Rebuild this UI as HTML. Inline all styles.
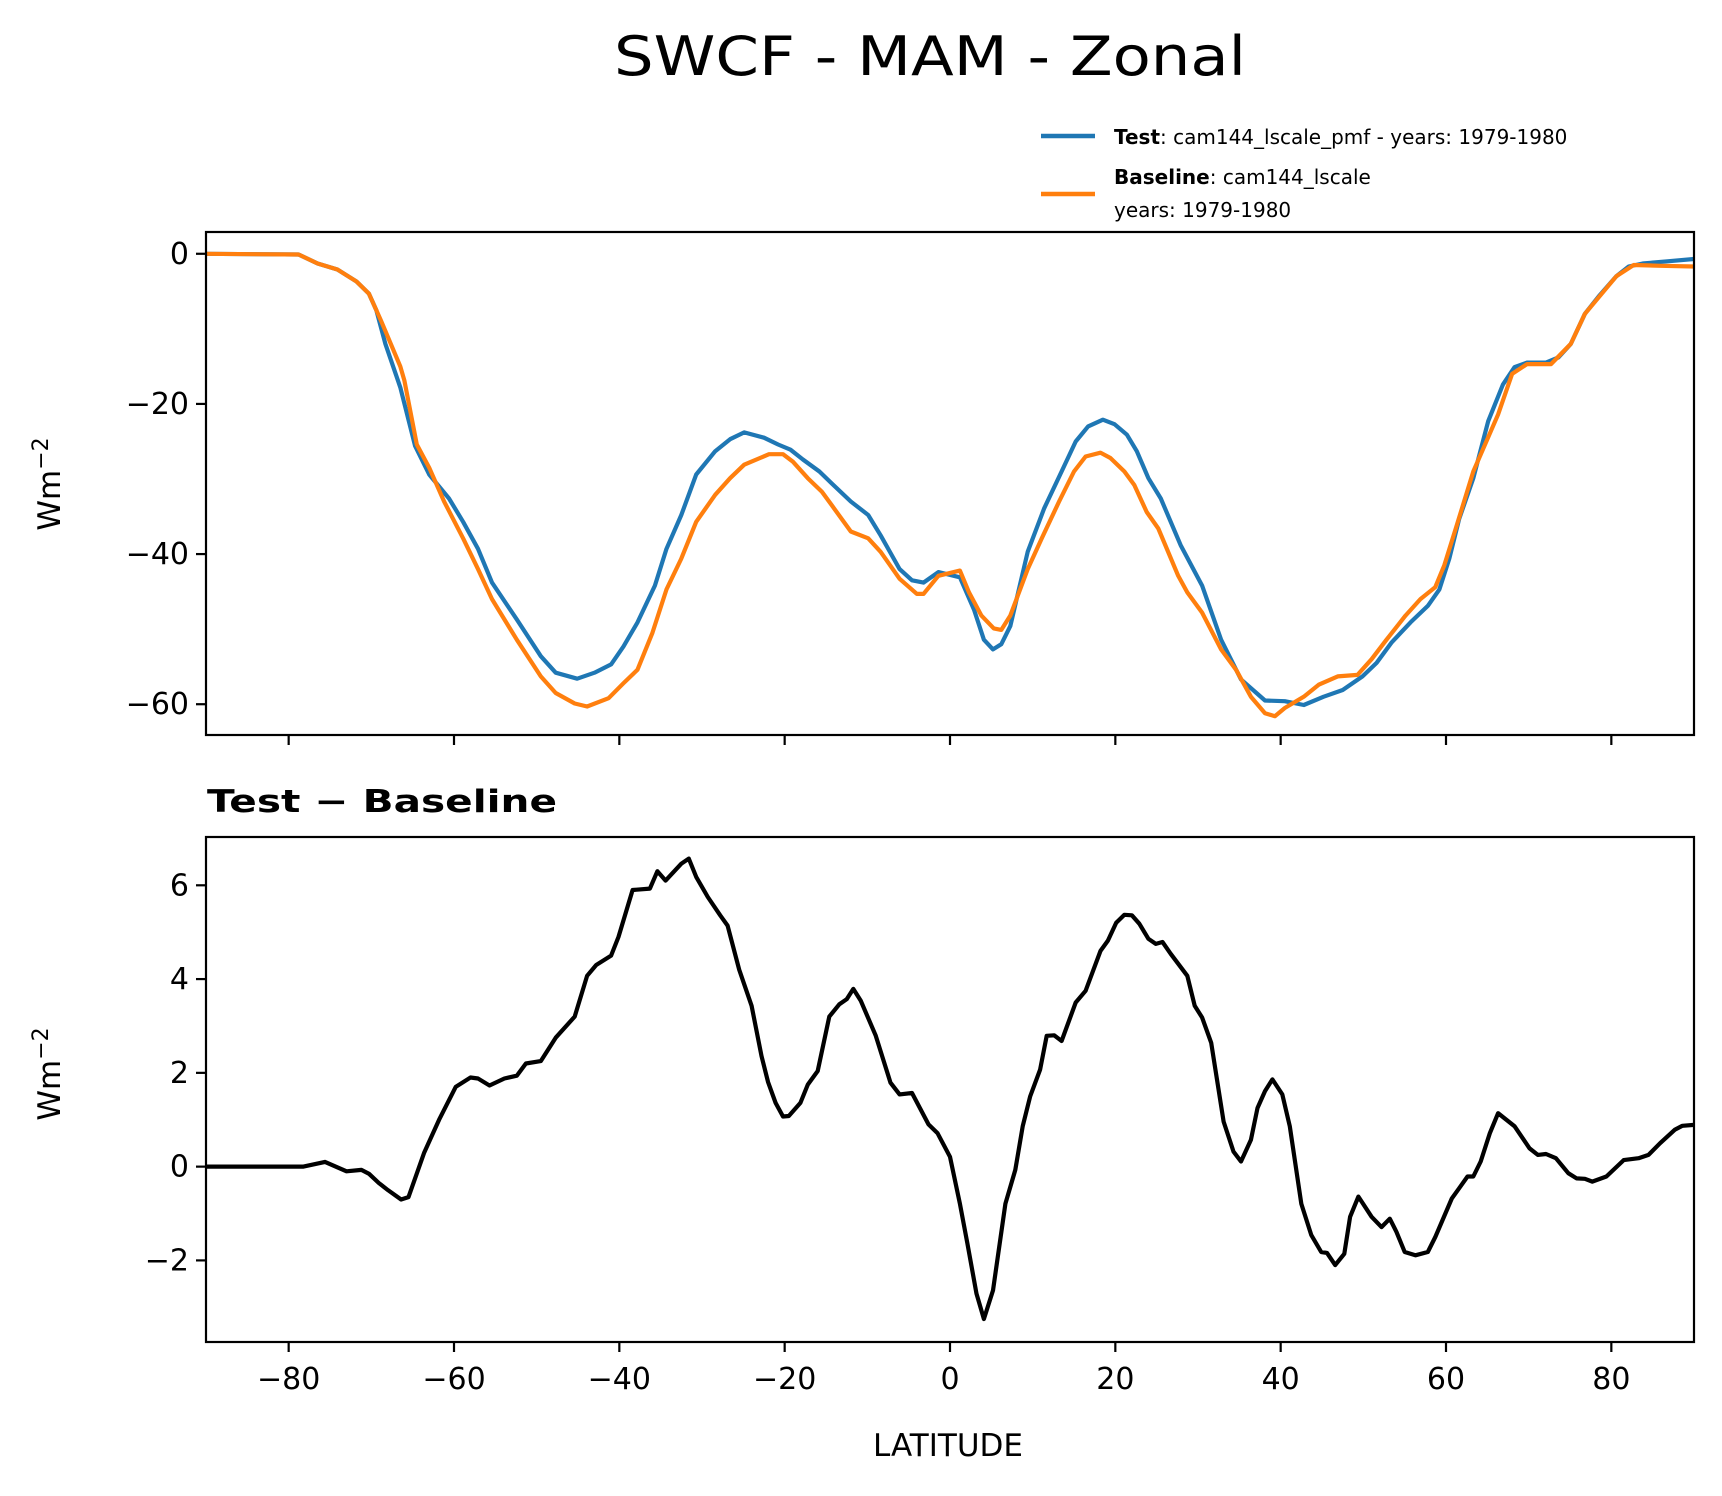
<!DOCTYPE html>
<html><head><meta charset="utf-8"><style>
html,body{margin:0;padding:0;background:#fff;}
svg{display:block;font-family:"DejaVu Sans","Liberation Sans",sans-serif;}
</style></head><body>
<svg id="chart" width="1722" height="1496" viewBox="0 0 1722 1496" xmlns="http://www.w3.org/2000/svg">
<rect width="1722" height="1496" fill="#fff"/>
<text x="930" y="75" font-size="54" text-anchor="middle" textLength="632" lengthAdjust="spacingAndGlyphs">SWCF - MAM - Zonal</text>
<g>
<line x1="1041" y1="136" x2="1095" y2="136" stroke="#1f77b4" stroke-width="4.5"/>
<text x="1114" y="144" font-size="20"><tspan font-weight="bold">Test</tspan>: cam144_lscale_pmf - years: 1979-1980</text>
<line x1="1041" y1="194" x2="1095" y2="194" stroke="#ff7f0e" stroke-width="4.5"/>
<text x="1114" y="184" font-size="20"><tspan font-weight="bold">Baseline</tspan>: cam144_lscale</text>
<text x="1114" y="217" font-size="20">years: 1979-1980</text>
</g>
<text x="207" y="812" font-size="31" font-weight="bold" textLength="350" lengthAdjust="spacingAndGlyphs">Test − Baseline</text>
<g id="top"></g>
<g id="bot"></g>
<text x="948" y="1456" font-size="31" text-anchor="middle">LATITUDE</text>
<text transform="translate(60,484) rotate(-90)" font-size="31" text-anchor="middle">Wm<tspan dy="-12" font-size="22">−2</tspan></text>
<text transform="translate(60,1074) rotate(-90)" font-size="31" text-anchor="middle">Wm<tspan dy="-12" font-size="22">−2</tspan></text>
</svg>
<script>
const xTicks = [-80,-60,-40,-20,0,20,40,60,80];
const topYTicks = [0,-20,-40,-60];
const botYTicks = [6,4,2,0,-2];
const testLat = [-90,-78.8,-76.5,-74.1,-71.8,-70.3,-69.4,-68.3,-66.5,-64.7,-63,-60.6,-58.9,-57.1,-55.4,-52.4,-49.5,-47.7,-45.1,-43,-41,-39.5,-37.8,-35.7,-34.3,-32.5,-30.7,-28.4,-26.6,-24.9,-22.5,-20.8,-19.3,-17.8,-15.8,-14.3,-12,-9.9,-8.4,-6.1,-4.6,-3.2,-1.4,1.2,2.9,4.1,5.2,6.2,7.3,9.4,11.4,13.5,15.2,16.7,18.5,19.9,21.4,22.6,24,25.5,27.9,30.5,32.8,35.2,38.1,40.5,42.8,45.2,47.5,49.9,51.6,53.4,55.7,57.8,59.2,60.4,61.6,63.3,65.1,66.9,68.3,69.8,72.1,73.6,75.1,76.8,78.6,80.6,82.1,83.8,86.8,90];
const testVal = [0,-0.1,-1.3,-2.1,-3.7,-5.3,-7.5,-12,-17.8,-25.6,-29.4,-32.6,-35.7,-39.3,-43.8,-48.7,-53.6,-55.8,-56.6,-55.8,-54.7,-52.3,-49.1,-44.2,-39.3,-34.8,-29.4,-26.3,-24.7,-23.8,-24.5,-25.4,-26.1,-27.4,-29,-30.6,-33,-34.8,-37.5,-42,-43.5,-43.8,-42.4,-43.1,-47.4,-51.4,-52.7,-52,-49.6,-39.7,-33.9,-29,-25,-23,-22.1,-22.7,-24.1,-26.3,-29.9,-32.6,-38.8,-44.2,-51.4,-56.7,-59.5,-59.6,-60.1,-59,-58.1,-56.3,-54.5,-51.8,-49.1,-46.9,-44.7,-40.6,-35.3,-29.9,-22.3,-17.4,-15.1,-14.5,-14.5,-13.8,-12,-8,-5.5,-3,-1.7,-1.3,-1,-0.7];
const baseLat = [-90,-78.8,-76.5,-74.1,-71.8,-70.3,-69.4,-68.8,-66.5,-66,-64.5,-63,-61.2,-58.9,-57.1,-55.4,-52.4,-49.5,-47.7,-45.4,-43.9,-41.3,-39.5,-37.8,-36,-34.3,-32.5,-30.7,-28.4,-26.6,-24.9,-21.9,-20.2,-19,-17.2,-15.5,-14.3,-12,-9.9,-8.4,-6.1,-4,-3.2,-1.4,1.2,2.3,3.8,5.3,6.2,7.3,9.4,11.1,13.2,15,16.4,18.2,19.4,21.1,22.3,23.8,25.2,27.6,28.7,30.5,32.8,34.6,36.4,38.1,39.3,40.5,42.8,44.6,46.9,49.3,51,52.8,55.1,56.9,58.7,59.8,61.3,63.3,66.3,68,69.8,72.7,75.1,76.8,80.6,82.7,86,90];
const baseVal = [0,-0.1,-1.3,-2.1,-3.7,-5.3,-7.5,-9,-15,-16.9,-25.4,-28.5,-33,-37.9,-42,-46,-51.4,-56.3,-58.5,-59.9,-60.3,-59.2,-57.2,-55.4,-50.5,-44.7,-40.6,-35.7,-32.1,-29.9,-28.1,-26.7,-26.7,-27.7,-29.9,-31.7,-33.5,-37,-37.9,-39.7,-43.3,-45.3,-45.3,-42.9,-42.2,-45.1,-48.2,-49.9,-50.1,-48.2,-42,-37.9,-33,-29,-27,-26.5,-27.2,-29,-30.8,-34.4,-36.6,-42.9,-45.1,-47.8,-52.7,-55.4,-59,-61.2,-61.6,-60.5,-59,-57.4,-56.3,-56.1,-54,-51.4,-48.2,-46,-44.4,-41.5,-36.2,-29,-21.4,-16,-14.7,-14.7,-12,-8,-3,-1.5,-1.6,-1.7];
const diffLat = [-90,-78.2,-75.6,-73,-71.2,-70.3,-69.1,-68,-66.4,-65.5,-63.6,-61.8,-59.8,-58,-57.1,-55.7,-53.9,-52.4,-51.3,-49.5,-47.7,-45.4,-43.9,-42.8,-41,-40.1,-38.4,-36.3,-35.4,-34.4,-32.5,-31.6,-30.7,-29.3,-27.8,-26.9,-25.5,-24,-22.8,-22,-21.1,-20.2,-19.5,-18.1,-17.2,-16,-14.6,-13.4,-12.5,-11.7,-10.8,-9,-7.2,-6.1,-4.6,-2.6,-1.5,0,1.2,2.1,3.2,4.1,5.2,6.7,7.9,8.8,9.7,10.9,11.7,12.6,13.5,15.2,16.4,18.2,19.1,20.1,21.1,22,22.9,24,24.9,25.7,26.7,28.7,29.6,30.5,31.6,33.1,34.3,35.2,36.4,37.2,38.1,39,40.2,41.1,42.5,43.7,44.9,45.6,46.6,47.7,48.4,49.4,51,52.2,53.2,54,55,56.3,57.8,58.7,60.7,61.6,62.6,63.3,64.2,65.3,66.3,68.3,70.1,71.1,72.1,73.3,74.8,75.8,76.8,77.7,79.4,81.5,83.3,84.5,85.9,87.7,88.6,90];
const diffVal = [0,0,0.1,-0.1,-0.07,-0.15,-0.35,-0.5,-0.7,-0.65,0.3,1,1.7,1.9,1.88,1.73,1.88,1.94,2.2,2.25,2.75,3.2,4.07,4.3,4.5,4.9,5.9,5.93,6.3,6.1,6.46,6.57,6.18,5.75,5.36,5.14,4.2,3.43,2.36,1.8,1.36,1.07,1.08,1.36,1.75,2.04,3.2,3.46,3.57,3.79,3.54,2.8,1.79,1.54,1.57,0.9,0.71,0.21,-0.79,-1.64,-2.71,-3.25,-2.64,-0.79,-0.07,0.86,1.5,2.07,2.79,2.8,2.68,3.5,3.75,4.6,4.82,5.2,5.37,5.36,5.18,4.86,4.75,4.79,4.54,4.07,3.43,3.18,2.64,0.96,0.32,0.11,0.57,1.25,1.61,1.86,1.54,0.86,-0.79,-1.46,-1.82,-1.84,-2.1,-1.86,-1.07,-0.64,-1.07,-1.29,-1.11,-1.39,-1.82,-1.89,-1.82,-1.5,-0.68,-0.46,-0.21,-0.21,0.11,0.71,1.14,0.86,0.39,0.25,0.27,0.18,-0.14,-0.25,-0.26,-0.32,-0.21,0.14,0.18,0.25,0.5,0.79,0.87,0.89];

const NS='http://www.w3.org/2000/svg';
const X0=206, X1=1694;
const xs = v => X0 + (v+90)/180*(X1-X0);
function mk(tag, attrs, parent){const e=document.createElementNS(NS,tag);for(const k in attrs)e.setAttribute(k,attrs[k]);parent.appendChild(e);return e;}

function panel(g, y0, y1, vmax, vmin, yTicks, showXLabels, series, prefix){
  const ys = v => y0 + (vmax - v)/(vmax - vmin)*(y1-y0);
  const clipId = prefix+'-clip';
  const cp = mk('clipPath',{id:clipId},g);
  mk('rect',{x:X0,y:y0,width:X1-X0,height:y1-y0},cp);
  series.forEach(s=>{
    const d = s.lat.map((la,i)=>(i?'L':'M')+xs(la).toFixed(1)+','+ys(s.val[i]).toFixed(1)).join('');
    const p = mk('path',{d:d,fill:'none',stroke:s.color,'stroke-width':4.2,'stroke-linejoin':'round','clip-path':'url(#'+clipId+')'},g);
    
    
  });
  const frame = mk('rect',{x:X0,y:y0,width:X1-X0,height:y1-y0,fill:'none',stroke:'#000','stroke-width':2.2},g);
  
  
  yTicks.forEach(t=>{
    const y=ys(t);
    const tk = mk('line',{x1:X0-10,x2:X0,y1:y,y2:y,stroke:'#000','stroke-width':2.2},g);
    
    
    const tx = mk('text',{x:X0-17,y:y+10,'font-size':30,'text-anchor':'end'},g);
    tx.textContent = t<0 ? '−'+Math.abs(t) : String(t);
    
    
  });
  xTicks.forEach(t=>{
    const x=xs(t);
    const tk = mk('line',{x1:x,x2:x,y1:y1,y2:y1+10,stroke:'#000','stroke-width':2.2},g);
    
    
    if(showXLabels){
      const tx = mk('text',{x:x,y:y1+47,'font-size':30,'text-anchor':'middle'},g);
      tx.textContent = t<0 ? '−'+Math.abs(t) : String(t);
      
      
    }
  });
}
panel(document.getElementById('top'), 232, 735, 2.9, -64.1, topYTicks, false,
  [{lat:testLat,val:testVal,color:'#1f77b4',name:'test-line'},{lat:baseLat,val:baseVal,color:'#ff7f0e',name:'baseline-line'}],'top');
panel(document.getElementById('bot'), 837, 1342, 7.03, -3.74, botYTicks, true,
  [{lat:diffLat,val:diffVal,color:'#000',name:'difference-line'}],'diff');
</script>
</body></html>
